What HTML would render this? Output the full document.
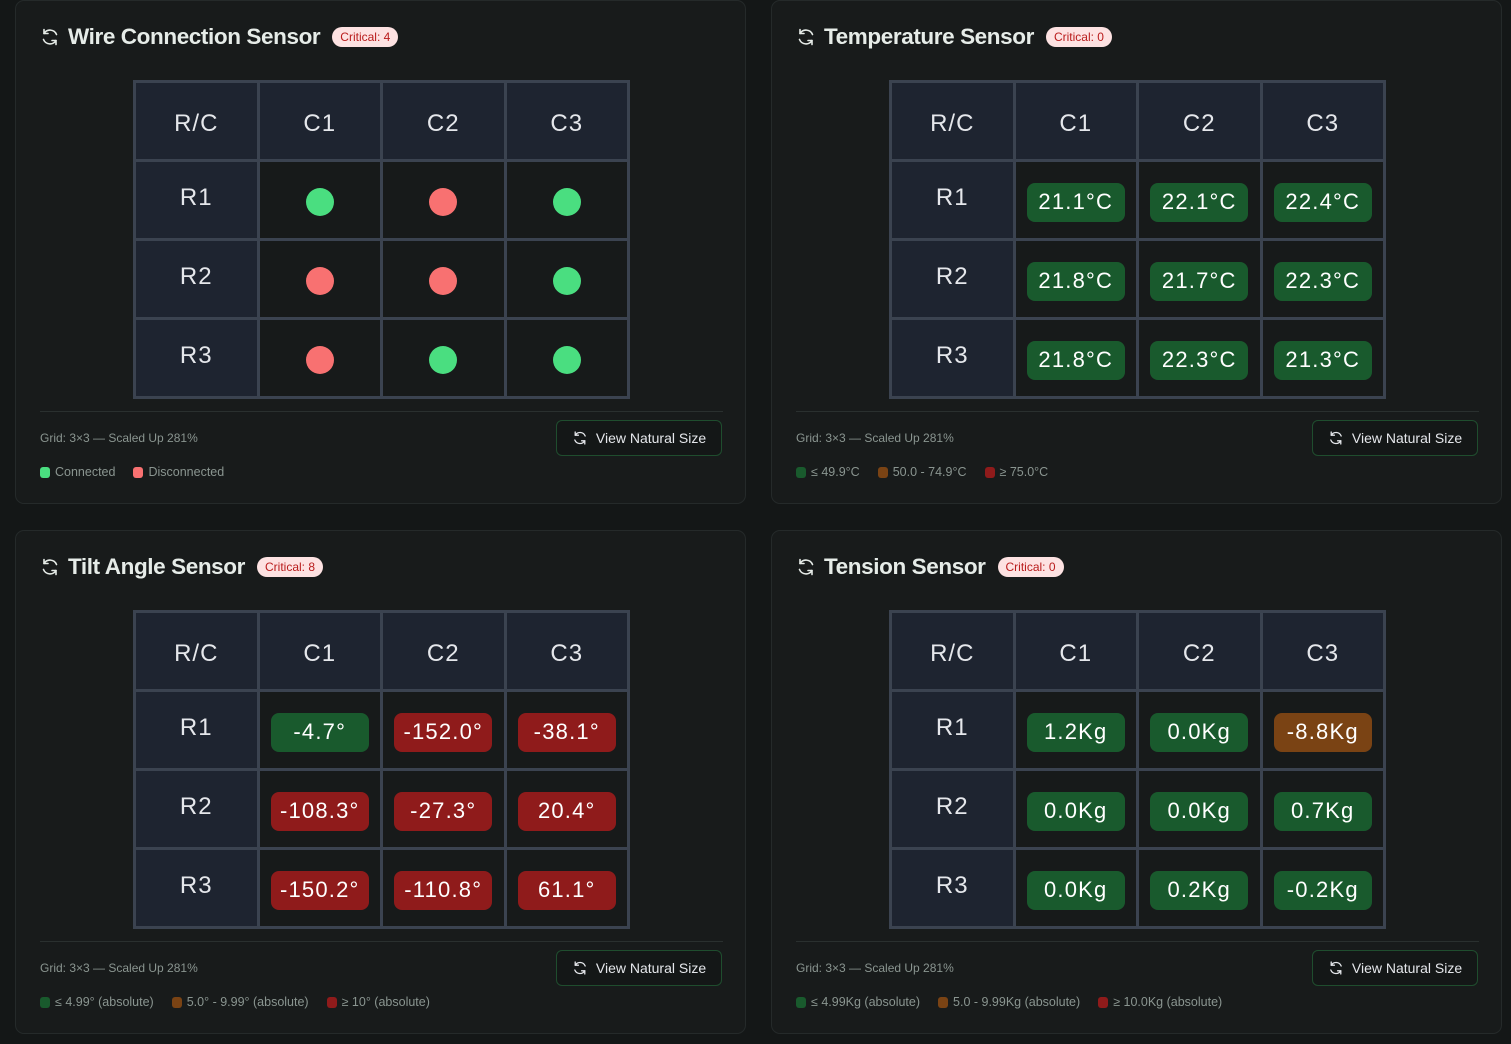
<!DOCTYPE html>
<html><head><meta charset="utf-8"><style>
*{box-sizing:border-box;margin:0;padding:0}
body{width:1511px;height:1044px;background:#141717;font-family:"Liberation Sans",sans-serif;position:relative;overflow:hidden}
.card{position:absolute;width:731px;height:504px;background:#181b1b;border:1px solid #252a2a;border-radius:9px}
.ic{position:absolute;left:24px;top:26px;width:20px;height:20px}
.title{position:absolute;left:52px;top:23px;font-size:22.5px;font-weight:600;color:#e6ece8;letter-spacing:-0.4px;white-space:nowrap;display:flex;align-items:center}
.badge{margin-left:12px;background:#fde2e2;color:#b91c1c;font-size:12px;font-weight:400;border-radius:10px;padding:3px 8px;letter-spacing:0}
.tbl{position:absolute;left:117px;top:79px;width:497px;display:grid;grid-template-columns:repeat(4,1fr);grid-template-rows:76px 76px 76px 76px;gap:3px;padding:3px;background:#3b4350}
.tbl div{display:flex;align-items:center;justify-content:center;font-size:24px;color:#e5e7eb;background:#171a1a;letter-spacing:1px}
.tbl .h{background:#1e2430}
.tbl .hc{padding-top:5px}
.tbl .hr{padding-bottom:5px}
.p{width:98px;height:39px;border-radius:8px;font-size:22px;color:#fff;display:flex;align-items:center;justify-content:center;white-space:nowrap;letter-spacing:1.2px;margin-top:4px}
.g{background:#195a2d}.r{background:#8f1b1b}.o{background:#7a4314}
.d{width:28px;height:28px;border-radius:50%;margin-top:3px}
.dg{background:#4ade80}.dr{background:#f87171}
.sep{position:absolute;left:24px;top:410px;width:683px;height:1px;background:#2a302f}
.info{position:absolute;left:24px;top:430px;font-size:12px;color:#8a9590}
.btn{position:absolute;left:540px;top:419px;width:166px;height:36px;border:1px solid #1f4d2e;border-radius:6px;background:#141717;color:#e5e7eb;font-size:14px;display:flex;align-items:center;justify-content:center;gap:8px}
.leg{position:absolute;left:24px;top:464px;font-size:12.5px;color:#8a9590;display:flex;gap:18px}
.leg span{display:flex;align-items:center;gap:5px}
.leg i{display:inline-block;width:10px;height:11px;border-radius:3px}
</style></head><body>

<svg width="0" height="0" style="position:absolute"><defs><g id="ref"><path d="M16.5 7.5A7 7 0 0 0 4 6.5M3.5 12.5A7 7 0 0 0 16 13.5" fill="none" stroke="currentColor" stroke-width="1.6" stroke-linecap="round"/><path d="M4 2.5v4h4M16 17.5v-4h-4" fill="none" stroke="currentColor" stroke-width="1.6" stroke-linecap="round" stroke-linejoin="round"/></g></defs></svg>

<div class="card" style="left:15px;top:0px">
<svg class="ic" viewBox="0 0 20 20" style="color:#e6ece8"><use href="#ref"/></svg>
<div class="title">Wire Connection Sensor<span class="badge">Critical: 4</span></div>
<div class="tbl">
<div class="h hc">R/C</div><div class="h hc">C1</div><div class="h hc">C2</div><div class="h hc">C3</div>
<div class="h hr">R1</div><div><i class="d dg"></i></div><div><i class="d dr"></i></div><div><i class="d dg"></i></div>
<div class="h hr">R2</div><div><i class="d dr"></i></div><div><i class="d dr"></i></div><div><i class="d dg"></i></div>
<div class="h hr">R3</div><div><i class="d dr"></i></div><div><i class="d dg"></i></div><div><i class="d dg"></i></div>
</div>
<div class="sep"></div>
<div class="info">Grid: 3×3 — Scaled Up 281%</div>
<div class="btn"><svg width="16" height="16" viewBox="0 0 20 20" style="color:#e5e7eb"><use href="#ref"/></svg>View Natural Size</div>
<div class="leg"><span><i style="background:#4ade80"></i>Connected</span><span><i style="background:#f87171"></i>Disconnected</span></div>
</div>

<div class="card" style="left:771px;top:0px">
<svg class="ic" viewBox="0 0 20 20" style="color:#e6ece8"><use href="#ref"/></svg>
<div class="title">Temperature Sensor<span class="badge">Critical: 0</span></div>
<div class="tbl">
<div class="h hc">R/C</div><div class="h hc">C1</div><div class="h hc">C2</div><div class="h hc">C3</div>
<div class="h hr">R1</div><div><span class="p g">21.1°C</span></div><div><span class="p g">22.1°C</span></div><div><span class="p g">22.4°C</span></div>
<div class="h hr">R2</div><div><span class="p g">21.8°C</span></div><div><span class="p g">21.7°C</span></div><div><span class="p g">22.3°C</span></div>
<div class="h hr">R3</div><div><span class="p g">21.8°C</span></div><div><span class="p g">22.3°C</span></div><div><span class="p g">21.3°C</span></div>
</div>
<div class="sep"></div>
<div class="info">Grid: 3×3 — Scaled Up 281%</div>
<div class="btn"><svg width="16" height="16" viewBox="0 0 20 20" style="color:#e5e7eb"><use href="#ref"/></svg>View Natural Size</div>
<div class="leg"><span><i style="background:#195a2d"></i>≤ 49.9°C</span><span><i style="background:#7a4314"></i>50.0 - 74.9°C</span><span><i style="background:#8f1b1b"></i>≥ 75.0°C</span></div>
</div>

<div class="card" style="left:15px;top:530px">
<svg class="ic" viewBox="0 0 20 20" style="color:#e6ece8"><use href="#ref"/></svg>
<div class="title">Tilt Angle Sensor<span class="badge">Critical: 8</span></div>
<div class="tbl">
<div class="h hc">R/C</div><div class="h hc">C1</div><div class="h hc">C2</div><div class="h hc">C3</div>
<div class="h hr">R1</div><div><span class="p g">-4.7°</span></div><div><span class="p r">-152.0°</span></div><div><span class="p r">-38.1°</span></div>
<div class="h hr">R2</div><div><span class="p r">-108.3°</span></div><div><span class="p r">-27.3°</span></div><div><span class="p r">20.4°</span></div>
<div class="h hr">R3</div><div><span class="p r">-150.2°</span></div><div><span class="p r">-110.8°</span></div><div><span class="p r">61.1°</span></div>
</div>
<div class="sep"></div>
<div class="info">Grid: 3×3 — Scaled Up 281%</div>
<div class="btn"><svg width="16" height="16" viewBox="0 0 20 20" style="color:#e5e7eb"><use href="#ref"/></svg>View Natural Size</div>
<div class="leg"><span><i style="background:#195a2d"></i>≤ 4.99° (absolute)</span><span><i style="background:#7a4314"></i>5.0° - 9.99° (absolute)</span><span><i style="background:#8f1b1b"></i>≥ 10° (absolute)</span></div>
</div>

<div class="card" style="left:771px;top:530px">
<svg class="ic" viewBox="0 0 20 20" style="color:#e6ece8"><use href="#ref"/></svg>
<div class="title">Tension Sensor<span class="badge">Critical: 0</span></div>
<div class="tbl">
<div class="h hc">R/C</div><div class="h hc">C1</div><div class="h hc">C2</div><div class="h hc">C3</div>
<div class="h hr">R1</div><div><span class="p g">1.2Kg</span></div><div><span class="p g">0.0Kg</span></div><div><span class="p o">-8.8Kg</span></div>
<div class="h hr">R2</div><div><span class="p g">0.0Kg</span></div><div><span class="p g">0.0Kg</span></div><div><span class="p g">0.7Kg</span></div>
<div class="h hr">R3</div><div><span class="p g">0.0Kg</span></div><div><span class="p g">0.2Kg</span></div><div><span class="p g">-0.2Kg</span></div>
</div>
<div class="sep"></div>
<div class="info">Grid: 3×3 — Scaled Up 281%</div>
<div class="btn"><svg width="16" height="16" viewBox="0 0 20 20" style="color:#e5e7eb"><use href="#ref"/></svg>View Natural Size</div>
<div class="leg"><span><i style="background:#195a2d"></i>≤ 4.99Kg (absolute)</span><span><i style="background:#7a4314"></i>5.0 - 9.99Kg (absolute)</span><span><i style="background:#8f1b1b"></i>≥ 10.0Kg (absolute)</span></div>
</div>

</body></html>
